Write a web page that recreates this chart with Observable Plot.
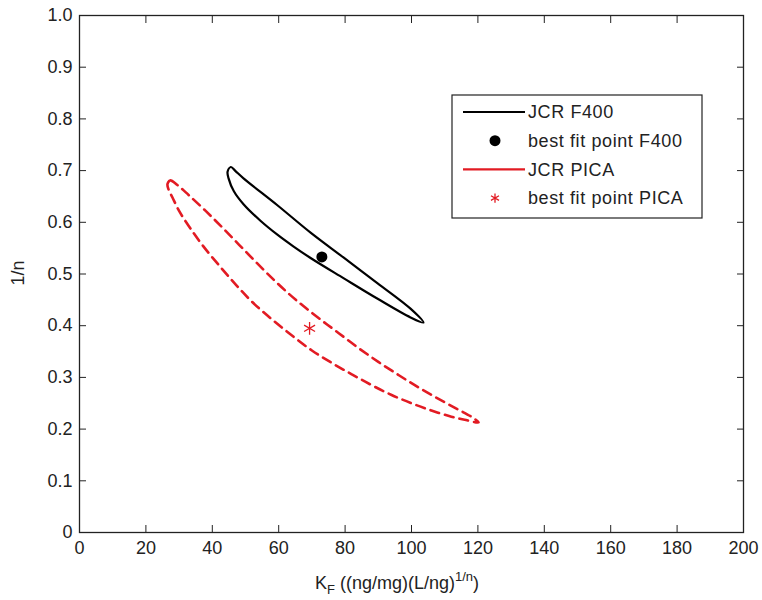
<!DOCTYPE html>
<html><head><meta charset="utf-8">
<script src="https://cdn.jsdelivr.net/npm/d3@7"></script>
<script src="https://cdn.jsdelivr.net/npm/@observablehq/plot@0.6"></script>
<style>body{margin:0;background:#fff;}</style>
</head><body><div id="chart"></div>
<script>
const xTicks = [0, 20, 40, 60, 80, 100, 120, 140, 160, 180, 200];
const yTicks = [0, 0.1, 0.2, 0.3, 0.4, 0.5, 0.6, 0.7, 0.8, 0.9, 1.0];

// JCR F400 contour: upper edge left->right, then lower edge right->left
const f400X = [44.6, 45.6, 47.0, 49.4, 59.6, 69.6, 79.5, 89.8, 99.7, 103.6,
               99.7, 89.8, 79.5, 69.6, 64.5, 59.6, 54.5, 49.4, 46.5, 44.9];
const f400Y = [0.698, 0.707, 0.699, 0.685, 0.633, 0.580, 0.532, 0.482, 0.433, 0.406,
               0.416, 0.452, 0.492, 0.531, 0.553, 0.576, 0.603, 0.635, 0.660, 0.685];

// JCR PICA contour: upper edge left->right, then lower edge right->left
const picaX = [26.5, 27.3, 29.5, 33, 38, 43, 48, 53, 58, 63, 68, 73, 78, 84, 90, 96, 102, 108, 114, 118, 120.2,
               116, 112, 106, 100, 94, 88, 82, 76, 70, 64, 58, 52, 47, 42, 37, 33, 30, 28, 26.8];
const picaY = [0.674, 0.681, 0.672, 0.652, 0.622, 0.590, 0.557, 0.524, 0.492, 0.462, 0.435, 0.410, 0.386, 0.357, 0.330, 0.305, 0.281, 0.259, 0.238, 0.224, 0.213,
               0.218, 0.224, 0.236, 0.250, 0.266, 0.285, 0.306, 0.328, 0.352, 0.381, 0.412, 0.446, 0.480, 0.517, 0.556, 0.592, 0.622, 0.648, 0.664];

const bestF400 = {x: 73.0, y: 0.533};
const bestPICA = {x: 69.3, y: 0.395};

const legendLabels = ["JCR F400", "best fit point F400", "JCR PICA", "best fit point PICA"];
const RED = "#e21b23";
const FONT = "'Liberation Sans', Arial, Helvetica, sans-serif";

const f400 = f400X.map((x, i) => ({x, y: f400Y[i]}));
const pica = picaX.map((x, i) => ({x, y: picaY[i]}));

const plot = Plot.plot({
  width: 762, height: 600,
  marginLeft: 79, marginRight: 19, marginTop: 15, marginBottom: 68,
  x: {domain: [0, 200]},
  y: {domain: [0, 1]},
  style: {fontFamily: FONT, fontSize: "18px", color: "#222", background: "#fff", overflow: "visible"},
  marks: [
    Plot.axisX({ticks: xTicks, tickSize: 0, tickPadding: 9, label: null, tickFormat: d => String(d)}),
    Plot.axisY({ticks: yTicks, tickSize: 0, tickPadding: 7, label: null, tickFormat: d => d === 0 ? "0" : d.toFixed(1)}),
    Plot.axisX({ticks: xTicks, anchor: "bottom", tickSize: -7, label: null, tickFormat: () => ""}),
    Plot.axisX({ticks: xTicks, anchor: "top", tickSize: -7, label: null, tickFormat: () => ""}),
    Plot.axisY({ticks: yTicks, anchor: "left", tickSize: -7, label: null, tickFormat: () => ""}),
    Plot.axisY({ticks: yTicks, anchor: "right", tickSize: -7, label: null, tickFormat: () => ""}),
    Plot.frame({stroke: "#222", strokeWidth: 1.3}),
    Plot.line(pica, {x: "x", y: "y", curve: "catmull-rom-closed", stroke: RED, strokeWidth: 2.6, strokeDasharray: "9,6"}),
    Plot.line(f400, {x: "x", y: "y", curve: "catmull-rom-closed", stroke: "#000", strokeWidth: 2.2}),
    Plot.dot([bestF400], {x: "x", y: "y", r: 5.5, fill: "#000", stroke: "none"}),
    Plot.dot([bestPICA], {x: "x", y: "y", r: 6, symbol: "asterisk", stroke: RED, strokeWidth: 1.3})
  ]
});

const svg = d3.select(plot);

// Axis labels
const xl = svg.append("text")
  .attr("x", 315).attr("y", 589).attr("text-anchor", "start")
  .attr("font-family", FONT).attr("font-size", 18).attr("fill", "#222");
xl.append("tspan").text("K");
xl.append("tspan").attr("font-size", 13).attr("dy", 5).text("F");
xl.append("tspan").attr("dy", -5).text(" ((ng/mg)(L/ng)");
xl.append("tspan").attr("font-size", 13).attr("dy", -8).text("1/n");
xl.append("tspan").attr("dy", 8).text(")");

svg.append("text")
  .attr("transform", "translate(24,273) rotate(-90)")
  .attr("text-anchor", "middle")
  .attr("font-family", FONT).attr("font-size", 18).attr("fill", "#222")
  .text("1/n");

// Legend
const lg = svg.append("g").attr("text-anchor", "start");
lg.append("rect").attr("x", 452).attr("y", 95).attr("width", 250).attr("height", 123)
  .attr("fill", "#fff").attr("stroke", "#222").attr("stroke-width", 1.2);
const rowY = i => 112 + i * 28.7;
legendLabels.forEach((lab, i) => {
  const y = rowY(i);
  if (i === 0 || i === 2) {
    lg.append("line").attr("x1", 463).attr("x2", 525).attr("y1", y).attr("y2", y)
      .attr("stroke", i === 0 ? "#000" : RED).attr("stroke-width", 2.2);
  } else if (i === 1) {
    lg.append("circle").attr("cx", 495).attr("cy", y).attr("r", 5.5).attr("fill", "#000");
  } else {
    lg.append("path").attr("transform", `translate(495,${y})`)
      .attr("d", d3.symbol(d3.symbolAsterisk, 60)())
      .attr("fill", "none").attr("stroke", RED).attr("stroke-width", 1.3);
  }
  lg.append("text").attr("x", 528).attr("y", y).attr("dy", "0.35em").attr("text-anchor", "start")
    .attr("font-family", FONT).attr("font-size", 18).attr("letter-spacing", "0.6px")
    .attr("fill", "#222").text(lab);
});

document.getElementById("chart").appendChild(plot);
</script>
</body></html>
